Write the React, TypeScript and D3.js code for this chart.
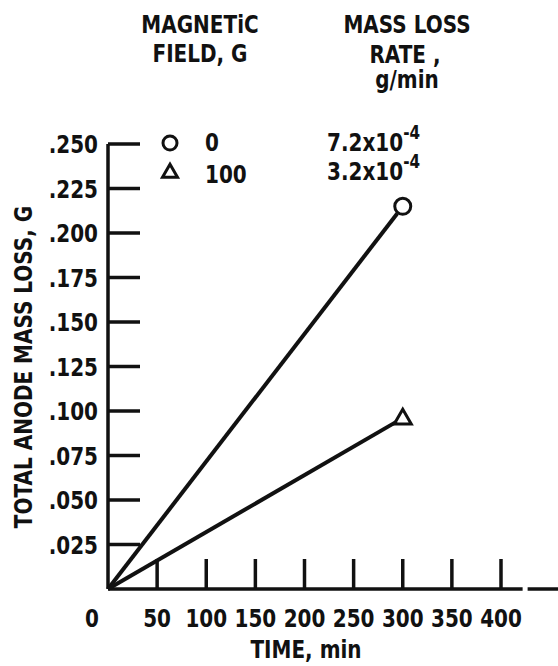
import * as d3 from 'd3'

// Time (min) and total anode mass loss (g)
const times = [0, 300]
const lossB0 = [0, 0.215]
const lossB100 = [0, 0.096]

const fields = ['0', '100']
const rates = ['7.2', '3.2']

const xTicks = [50, 100, 150, 200, 250, 300, 350, 400]
const xLabels = [0, 50, 100, 150, 200, 250, 300, 350, 400]
const yTicks = [0.025, 0.05, 0.075, 0.1, 0.125, 0.15, 0.175, 0.2, 0.225, 0.25]

const W = 558
const H = 666
const FONT = "'DejaVu Sans', sans-serif"
const INK = '#111'
const FS = 25
const SX = 0.8 // squeeze the glyphs, the original lettering is narrow

function T({ x, y, anchor = 'start', rotate = 0, size = FS, children }: any) {
  return (
    <text transform={`translate(${x},${y}) rotate(${rotate}) scale(${SX},1)`} textAnchor={anchor} fontSize={size}>
      {children}
    </text>
  )
}

export default function App() {
  const x = d3.scaleLinear().domain([0, 400]).range([108, 501])
  const y = d3.scaleLinear().domain([0, 0.25]).range([589, 144])
  const fmt = (v: number) => d3.format('.3f')(v).replace(/^0/, '')

  const series = [lossB0, lossB100].map(s => times.map((t, i) => [t, s[i]] as [number, number]))

  // shorten a segment so it stops at the marker edge
  function trimmed(pts: [number, number][], r: number) {
    const [x0, y0] = [x(pts[0][0]), y(pts[0][1])]
    const [x1, y1] = [x(pts[1][0]), y(pts[1][1])]
    const len = Math.hypot(x1 - x0, y1 - y0)
    const k = (len - r) / len
    return `M${x0},${y0}L${x0 + (x1 - x0) * k},${y0 + (y1 - y0) * k}`
  }

  const tri = (cx: number, cy: number, s: number) => {
    const h = s * Math.sqrt(3) / 2
    return `M${cx},${cy - h * 0.6}L${cx + s / 2},${cy + h * 0.4}L${cx - s / 2},${cy + h * 0.4}Z`
  }

  const axisEnd = 458
  const gapAt = 422

  return (
    <svg width={W} height={H} style={{ position: 'absolute', left: 0, top: 0, background: '#fff' }}
      fontFamily={FONT} fontWeight="bold" fill={INK}>
      {/* header */}
      <T x={200} y={33} anchor="middle">MAGNETiC</T>
      <T x={200} y={62} anchor="middle">FIELD, G</T>
      <T x={407} y={33} anchor="middle">MASS LOSS</T>
      <T x={405} y={63} anchor="middle">RATE ,</T>
      <T x={407} y={88} anchor="middle">g/min</T>

      {/* legend */}
      <circle cx={170} cy={143} r={7} fill="none" stroke={INK} strokeWidth={3} />
      <path d={tri(170, 172, 15)} fill="none" stroke={INK} strokeWidth={3} strokeLinejoin="miter" />
      {fields.map((f, i) => (
        <T key={f} x={205} y={151 + i * 32}>{f}</T>
      ))}
      {rates.map((r, i) => (
        <T key={r} x={327} y={151 + i * 29}>
          {r}x10<tspan dy={-12} fontSize={19}>-4</tspan>
        </T>
      ))}

      {/* axes */}
      <g stroke={INK} strokeWidth={3.5} fill="none">
        <line x1={x(0)} x2={x(0)} y1={y(0)} y2={y(0.25)} />
        <line x1={x(0)} x2={x(gapAt)} y1={y(0)} y2={y(0)} />
        <line x1={x(gapAt) + 5} x2={x(axisEnd)} y1={y(0)} y2={y(0)} />
        {yTicks.map(t => (
          <line key={t} x1={x(0)} x2={x(0) + 32} y1={y(t)} y2={y(t)} />
        ))}
        {xTicks.map(t => (
          <line key={t} x1={x(t)} x2={x(t)} y1={y(0)} y2={y(0) - 30} />
        ))}
      </g>

      {yTicks.map(t => (
        <T key={t} x={98} y={y(t) + 9} anchor="end">{fmt(t)}</T>
      ))}
      {xLabels.map(t => (
        <T key={t} x={t === 0 ? 92 : x(t)} y={627} anchor="middle">{t}</T>
      ))}
      <T x={306} y={658} anchor="middle">TIME, min</T>
      <T x={32} y={367} anchor="middle" rotate={-90}>TOTAL ANODE MASS LOSS, G</T>

      {/* data */}
      <g fill="none" stroke={INK} strokeWidth={4}>
        <path d={trimmed(series[0], 9)} />
        <path d={trimmed(series[1], 7)} />
        <circle cx={x(times[1])} cy={y(lossB0[1])} r={8} strokeWidth={3} />
        <path d={tri(x(times[1]), y(lossB100[1]), 17)} strokeWidth={3} />
      </g>
    </svg>
  )
}
